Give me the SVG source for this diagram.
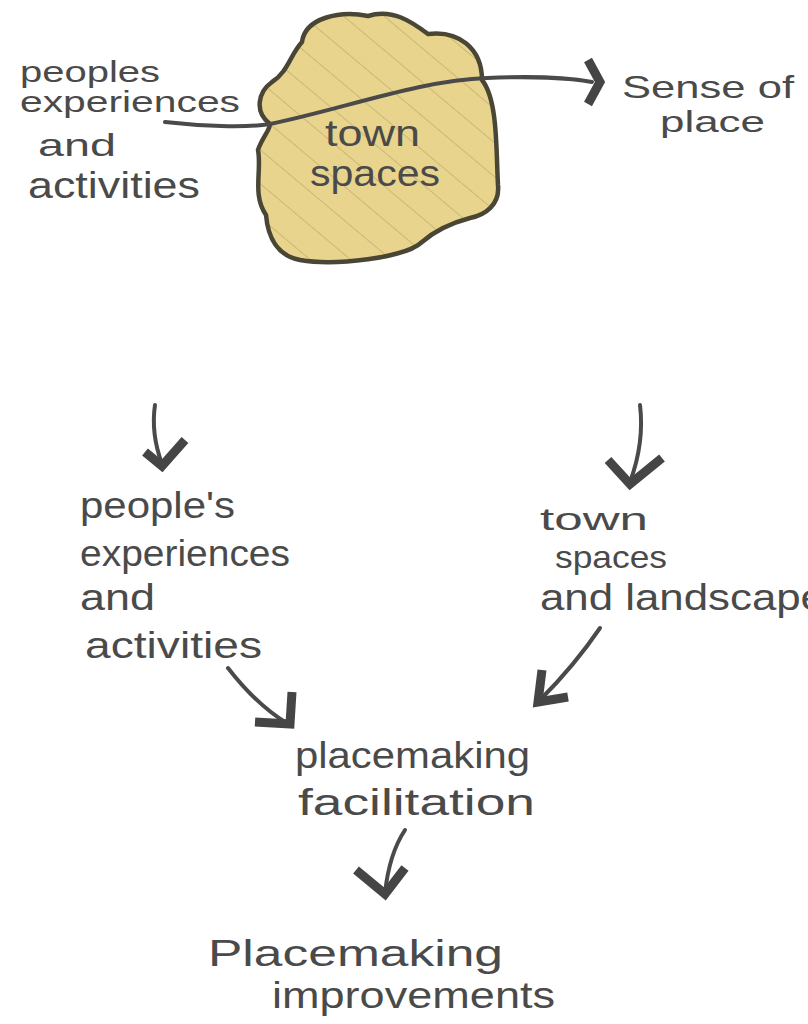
<svg xmlns="http://www.w3.org/2000/svg" width="808" height="1024" viewBox="0 0 808 1024">
<style>
.t{font-family:"Liberation Sans Narrow","Liberation Sans",Arial,sans-serif;fill:#4a4a4a;font-size:36px}
.s{font-size:29px}
.m{font-size:32px}
.ln{fill:none;stroke:#4a4a4a;stroke-width:4;stroke-linecap:round}
.hd{fill:none;stroke:#454545;stroke-width:9;stroke-linecap:butt;stroke-linejoin:miter}
</style>
<defs>
<pattern id="hatch" patternUnits="userSpaceOnUse" width="26" height="26" patternTransform="rotate(-50)">
<rect width="26" height="26" fill="#e8d48c"/>
<line x1="0" y1="0" x2="0" y2="26" stroke="#b8a56a" stroke-width="1.2"/>
</pattern>
</defs>
<g id="town-spaces-blob">
<path d="M302,42 C305,18 340,10 368,16 C392,8 412,22 428,34 C458,30 482,48 482,80 C498,100 496,150 498,185 C500,205 485,215 470,218 C455,222 438,228 422,242 C405,258 335,266 300,260 C278,256 268,238 266,215 C252,195 262,170 258,150 C262,138 270,130 270,124 C254,112 258,92 272,82 C288,72 290,55 302,42 Z" fill="url(#hatch)" stroke="#4a4636" stroke-width="4.5"/>
<text class="t" x="325" y="146" textLength="95" lengthAdjust="spacingAndGlyphs">town</text>
<text class="t" x="310" y="186" textLength="130" lengthAdjust="spacingAndGlyphs">spaces</text>
</g>
<g id="peoples-experiences-top">
<text class="t s" x="20" y="82" textLength="140" lengthAdjust="spacingAndGlyphs">peoples</text>
<text class="t s" x="20" y="112" textLength="220" lengthAdjust="spacingAndGlyphs">experiences</text>
<text class="t m" x="38" y="156" textLength="78" lengthAdjust="spacingAndGlyphs">and</text>
<text class="t" x="28" y="198" textLength="172" lengthAdjust="spacingAndGlyphs">activities</text>
</g>
<g id="sense-of-place">
<text class="t m" x="622" y="98" textLength="172" lengthAdjust="spacingAndGlyphs">Sense of</text>
<text class="t s" x="660" y="132" textLength="105" lengthAdjust="spacingAndGlyphs">place</text>
</g>
<g id="peoples-experiences">
<text class="t" x="80" y="518" textLength="155" lengthAdjust="spacingAndGlyphs">people's</text>
<text class="t" x="80" y="566" textLength="210" lengthAdjust="spacingAndGlyphs">experiences</text>
<text class="t" x="80" y="610" textLength="75" lengthAdjust="spacingAndGlyphs">and</text>
<text class="t" x="85" y="658" textLength="177" lengthAdjust="spacingAndGlyphs">activities</text>
</g>
<g id="town-spaces-landscape">
<text class="t m" x="540" y="530" textLength="108" lengthAdjust="spacingAndGlyphs">town</text>
<text class="t m" x="555" y="568" textLength="112" lengthAdjust="spacingAndGlyphs">spaces</text>
<text class="t" x="540" y="610" textLength="285" lengthAdjust="spacingAndGlyphs">and landscape</text>
</g>
<g id="placemaking-facilitation">
<text class="t" x="295" y="768" textLength="235" lengthAdjust="spacingAndGlyphs">placemaking</text>
<text class="t" x="298" y="815" textLength="237" lengthAdjust="spacingAndGlyphs">facilitation</text>
</g>
<g id="placemaking-improvements">
<text class="t" x="208" y="966" textLength="295" lengthAdjust="spacingAndGlyphs">Placemaking</text>
<text class="t" x="272" y="1008" textLength="283" lengthAdjust="spacingAndGlyphs">improvements</text>
</g>
<g id="connectors">
<path class="ln" d="M165,122 C200,126 245,128 270,124 C340,110 420,80 487,78 C530,76 570,78 592,82"/>
<polyline class="hd" points="588,60 600,82 588,104"/>
<path class="ln" d="M155,405 C152,425 155,445 162,464"/>
<polyline class="hd" points="145,452 162,466 185,440"/>
<path class="ln" d="M228,668 C245,690 265,710 288,724"/>
<polyline class="hd" points="255,722 290,724 292,692"/>
<path class="ln" d="M640,405 C643,430 640,455 630,482"/>
<polyline class="hd" points="608,460 630,484 662,458"/>
<path class="ln" d="M600,628 C585,650 565,675 540,700"/>
<polyline class="hd" points="542,670 538,702 568,697"/>
<path class="ln" d="M405,830 C395,845 388,865 385,893"/>
<polyline class="hd" points="356,870 385,894 405,868"/>
</g>
</svg>
